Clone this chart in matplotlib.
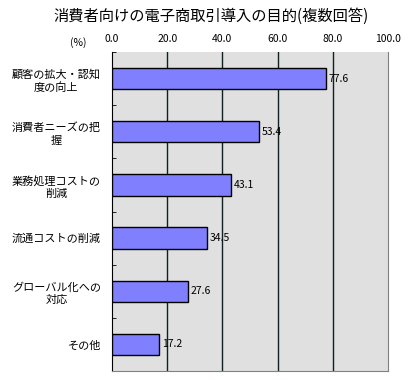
import numpy as np
import matplotlib
matplotlib.use("Agg")
import matplotlib.pyplot as plt

plt.rcParams['font.family'] = ['Noto Sans CJK JP', 'DejaVu Sans']

# データ
categories = ["顧客の拡大・認知\n度の向上", "消費者ニーズの把\n握", "業務処理コストの\n削減",
              "流通コストの削減", "グローバル化への\n対応", "その他"]
values = [77.6, 53.4, 43.1, 34.5, 27.6, 17.2]
xticks = [0, 20, 40, 60, 80, 100]

fig = plt.figure(figsize=(4.1, 3.8), dpi=100)
# プロット領域 (pixel: left 112, right 388, top 52, bottom 371)
ax = fig.add_axes([112/410, 1 - 371/380, 276/410, 319/380])
ax.set_facecolor("#e0e0e0")

y = np.arange(len(categories))
ax.barh(y, values, height=0.4, color="#8080ff", edgecolor="black", linewidth=1, zorder=3)
for yi, v in zip(y, values):
    ax.text(v + 1, yi, "{:.1f}".format(v), va="center", ha="left", fontsize=7.5, zorder=4)

ax.set_xlim(0, 100)
ax.set_ylim(len(categories) - 0.5, -0.5)
ax.set_xticks(xticks)
ax.set_xticklabels(["{:.1f}".format(t) for t in xticks], fontsize=7.5)
ax.xaxis.tick_top()
ax.tick_params(axis="x", length=0, pad=6)
ax.set_yticks(y)
ax.set_yticklabels(categories, fontsize=8, linespacing=1.3, multialignment="center")
ax.tick_params(axis="y", length=0, pad=8)
# カテゴリ境界の目盛り
ax.set_yticks(np.arange(len(categories) + 1) - 0.5, minor=True)
ax.tick_params(axis="y", which="minor", direction="in", length=3, color="black")

for t in xticks[1:-1]:
    ax.axvline(t, color="#102020", linewidth=1, zorder=1)

ax.spines["left"].set_color("black")
for s in ["right", "bottom", "top"]:
    ax.spines[s].set_color("#808080")
ax.spines["top"].set_visible(False)

fig.text(78/410, 1 - 43/380, "(%)", fontsize=7.5, ha="center", va="center")
fig.text(211/410, 1 - 16/380, "消費者向けの電子商取引導入の目的(複数回答)", fontsize=11,
         ha="center", va="center")

plt.savefig("out.png", dpi=100)
